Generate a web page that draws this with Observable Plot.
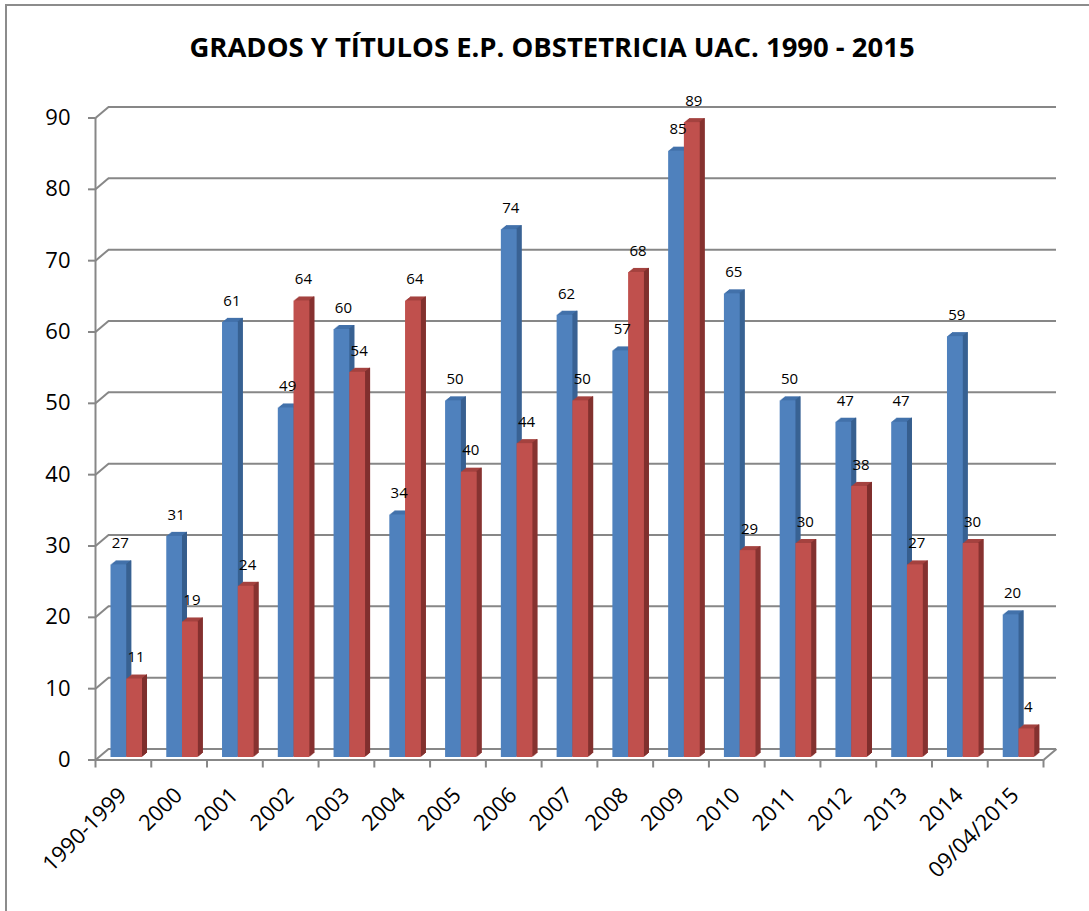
<!DOCTYPE html>
<html>
<head>
<meta charset="utf-8">
<script src="https://cdn.jsdelivr.net/npm/d3@7"></script>
<script src="https://cdn.jsdelivr.net/npm/@observablehq/plot@0.6"></script>
<style>
  html, body { margin: 0; padding: 0; background: #fff; overflow: hidden; }
  #frame { position: absolute; left: 5px; top: 4px; width: 2000px; height: 2000px;
           border-left: 2px solid #8c8c8c; border-top: 2px solid #8c8c8c; pointer-events: none; }
  #title { position: absolute; top: 34px; left: 552px; white-space: nowrap;
           font: 700 26px "Open Sans", sans-serif; line-height: 26px; color: #000;
           transform-origin: center; }
  #chart { position: absolute; top: 88px; left: 0; }
</style>
</head>
<body>
<div id="frame"></div>
<div id="title">GRADOS Y TÍTULOS E.P. OBSTETRICIA UAC. 1990 - 2015</div>
<div id="chart"></div>
<script>
// ---- data ----
const categories = ["1990-1999", "2000", "2001", "2002", "2003", "2004", "2005", "2006", "2007",
                    "2008", "2009", "2010", "2011", "2012", "2013", "2014", "09/04/2015"];
const grados  = [27, 31, 61, 49, 60, 34, 50, 74, 62, 57, 85, 65, 50, 47, 47, 59, 20];
const titulos = [11, 19, 24, 64, 54, 64, 40, 44, 50, 68, 89, 29, 30, 38, 27, 30, 4];
const yTicks  = [0, 10, 20, 30, 40, 50, 60, 70, 80, 90];

// ---- title fit ----
const titleEl = document.getElementById("title");
const tw = titleEl.offsetWidth;
titleEl.style.transform = `translateX(-50%) scaleX(${725 / tw})`;

// ---- layout ----
const W = 1089, H = 823, ML = 95, MR = 46, MT = 27, MB = 154;
const N = categories.length;
const YMAX = 90;
const pxX = (W - ML - MR) / N;
const pxY = (H - MT - MB) / YMAX;
const DEPTH_X = 13, DEPTH_Y = 11;   // floor depth in px
const FRONT = 2.5;                  // front edge offset below bar base (px)
const GRID = "#878787";

const series = [
  {values: grados,  o1: 0.278, o2: 0.560, front: "#4f81bd", cap: "#4271aa", side: "#375e8d"},
  {values: titulos, o1: 0.560, o2: 0.843, front: "#c0504d", cap: "#a4423f", side: "#7e2f2d"}
];

const barMarks = [];
const steps = [1, 2, 3, 4, 5];
for (const s of series) {
  for (const k of steps) {
    barMarks.push(Plot.rect(s.values, {
      x1: (d, i) => i + s.o1, x2: (d, i) => i + s.o2, y1: () => 0, y2: d => d,
      dx: k, dy: -0.8 * k, fill: s.cap
    }));
  }
  for (const k of steps) {
    barMarks.push(Plot.rect(s.values, {
      x1: (d, i) => i + s.o2, x2: (d, i) => i + s.o2, y1: () => 0, y2: d => d,
      insetLeft: -1, dx: k, dy: -0.8 * k, fill: s.side
    }));
  }
  barMarks.push(Plot.rect(s.values, {
    x1: (d, i) => i + s.o1, x2: (d, i) => i + s.o2, y1: () => 0, y2: d => d, fill: s.front
  }));
}

const labelMarks = series.map(s => Plot.text(s.values, {
  x: (d, i) => i + (s.o1 + s.o2) / 2, y: d => d, text: d => String(d),
  dx: 1.5, dy: -21.5, fontSize: 15, fill: "black"
}));

const chart = Plot.plot({
  width: W, height: H,
  marginLeft: ML, marginRight: MR, marginTop: MT, marginBottom: MB,
  x: {type: "linear", domain: [0, N]},
  y: {domain: [0, YMAX]},
  style: {fontFamily: '"Open Sans", sans-serif', color: "black", background: "transparent", overflow: "visible"},
  marks: [
    // back wall gridlines
    Plot.ruleY(yTicks, {stroke: GRID, strokeWidth: 2, dx: DEPTH_X, dy: FRONT - DEPTH_Y}),
    // left wall diagonals
    Plot.link(yTicks, {x1: () => 0, x2: () => DEPTH_X / pxX, y1: d => d, y2: d => d + DEPTH_Y / pxY,
                       dy: FRONT, stroke: GRID, strokeWidth: 2}),
    // right floor diagonal
    Plot.link([N], {x1: d => d, x2: d => d + DEPTH_X / pxX, y1: () => 0, y2: () => DEPTH_Y / pxY,
                    dy: FRONT, stroke: GRID, strokeWidth: 2}),
    ...barMarks,
    // front axis lines
    Plot.ruleY([0], {dy: FRONT, stroke: GRID, strokeWidth: 2}),
    Plot.ruleX([0], {y1: 0, y2: YMAX, dy: FRONT, stroke: GRID, strokeWidth: 2}),
    // axes
    Plot.axisY(yTicks, {tickSize: 7, tickPadding: 18, fontSize: 22, dy: FRONT, stroke: GRID,
                        strokeWidth: 2, label: null, fill: "black"}),
    Plot.axisX(d3.range(N + 1), {tickSize: 8, tickFormat: () => "", dy: FRONT, stroke: GRID,
                                 strokeWidth: 2, label: null}),
    Plot.text(categories, {x: (d, i) => i + 0.5, frameAnchor: "bottom", text: d => d,
                           rotate: -45, textAnchor: "end", lineAnchor: "bottom",
                           dx: 4.5, dy: 39, fontSize: 22, fill: "black"}),
    ...labelMarks
  ]
});
document.getElementById("chart").append(chart);
</script>
</body>
</html>
